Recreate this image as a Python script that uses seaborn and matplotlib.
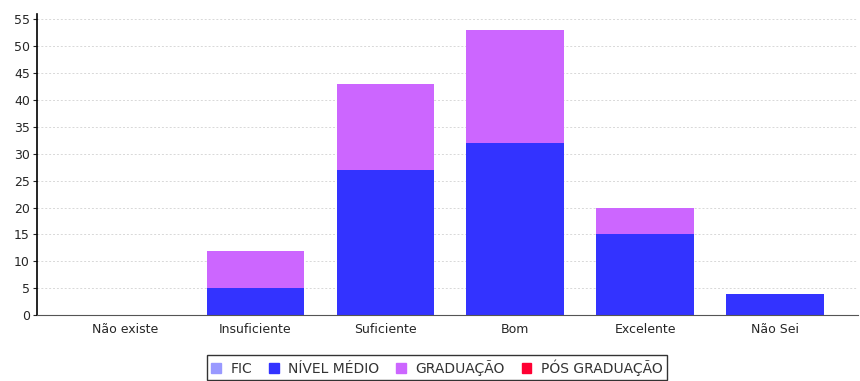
import matplotlib
matplotlib.use("Agg")
import matplotlib.pyplot as plt
import seaborn as sns
import pandas as pd
from matplotlib.patches import Patch

# dados
categorias = ["Não existe", "Insuficiente", "Suficiente", "Bom", "Excelente", "Não Sei"]
fic = [0, 0, 0, 0, 0, 0]
nivel_medio = [0, 5, 27, 32, 15, 4]
graduacao = [0, 7, 16, 21, 5, 0]
pos_graduacao = [0, 0, 0, 0, 0, 0]

series = ["FIC", "NÍVEL MÉDIO", "GRADUAÇÃO", "PÓS GRADUAÇÃO"]
cores = ["#9999FF", "#3333FF", "#CC66FF", "#FF0033"]

df = pd.DataFrame({"categoria": categorias, "FIC": fic, "NÍVEL MÉDIO": nivel_medio,
                   "GRADUAÇÃO": graduacao, "PÓS GRADUAÇÃO": pos_graduacao})

sns.set_style("white")
plt.rcParams['font.family'] = ['DejaVu Sans']

fig = plt.figure(figsize=(8.6, 3.81), dpi=100)
ax = fig.add_axes([0.043, 0.173, 0.955, 0.79])

base = [0] * len(categorias)
for s, c in zip(series, cores):
    sns.barplot(data=df, x="categoria", y=s, color=c, bottom=base, width=0.75,
                ax=ax, saturation=1, linewidth=0)
    base = [b + v for b, v in zip(base, df[s])]

ax.set_xlim(-0.68, 5.64)
ax.set_ylim(0, 56)
ax.set_yticks(range(0, 56, 5))
ax.set_xlabel("")
ax.set_ylabel("")
ax.yaxis.grid(True, color="#d8d8d8", linestyle=(0, (2, 2)), linewidth=0.7)
ax.set_axisbelow(True)
for sp in ["top", "right"]:
    ax.spines[sp].set_visible(False)
ax.spines["left"].set_color("black")
ax.spines["left"].set_linewidth(1.2)
ax.spines["bottom"].set_color("#555555")
ax.spines["bottom"].set_linestyle((0, (3, 1)))
ax.tick_params(axis="y", length=3, width=0.8, labelsize=9, pad=2, left=True)
ax.tick_params(axis="x", length=0, labelsize=9, pad=6)

handles = [Patch(color=c, label=s) for s, c in zip(series, cores)]
leg = fig.legend(handles=handles, loc="lower center", bbox_to_anchor=(0.508, -0.005), ncol=4,
                 prop={"size": 10}, frameon=True, fancybox=False,
                 edgecolor="black", handlelength=0.7, handleheight=0.7, handletextpad=0.7,
                 columnspacing=1.2, borderpad=0.3, borderaxespad=0.2)
leg.get_frame().set_linewidth(1.0)
for t in leg.get_texts():
    t.set_color("#333333")

fig.savefig("out.png", dpi=100)
